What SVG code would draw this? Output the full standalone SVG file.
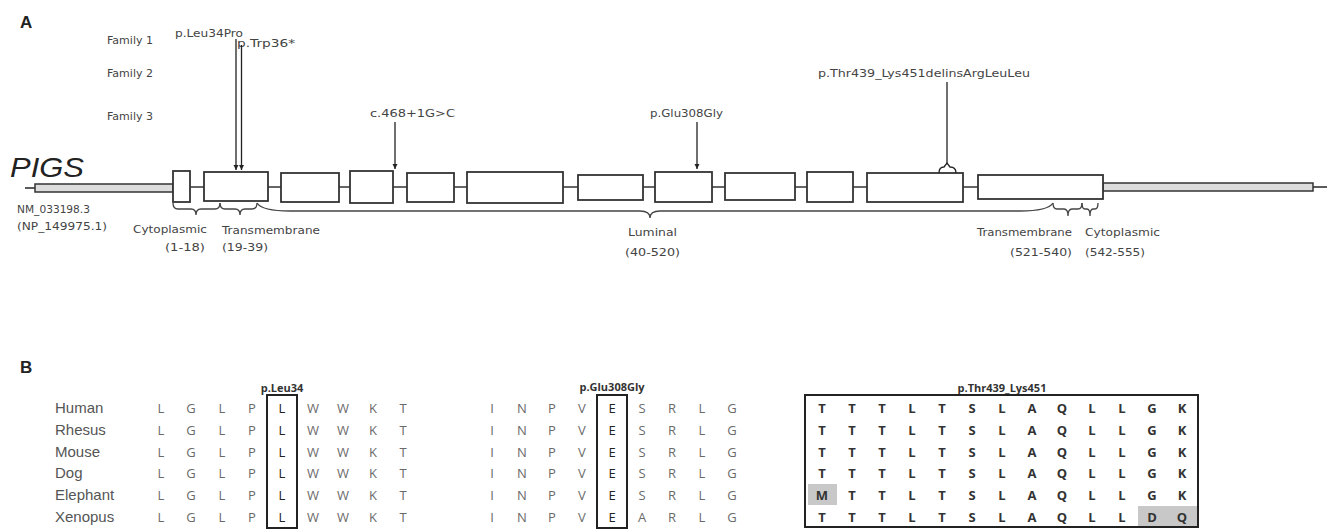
<svg xmlns="http://www.w3.org/2000/svg" width="1330" height="529" viewBox="0 0 1330 529">
<style>
.panel{font-family:"Liberation Sans",Arial,sans-serif;font-weight:bold;font-size:17px;fill:#222}
.lab{font-family:"DejaVu Sans",Verdana,sans-serif;font-size:11px;fill:#444}
.exon{fill:#fff;stroke:#333;stroke-width:1.8}
.utr{fill:#ddd;stroke:#333;stroke-width:1.5}
.intron{stroke:#333;stroke-width:1.6;fill:none}
.arr{stroke:#222;stroke-width:1.3;fill:none}
.brace{stroke:#444;stroke-width:1.3;fill:none}
.sp{font-family:"Liberation Sans",Arial,sans-serif;font-size:15px;fill:#555}
.aa{font-family:"Open Sans","Liberation Sans",sans-serif;font-size:13px;fill:#6a6a6a;text-anchor:middle}
.aak{font-family:"Open Sans","Liberation Sans",sans-serif;font-size:13px;fill:#222;text-anchor:middle}
.aab{font-family:"Open Sans","Liberation Sans",sans-serif;font-size:13px;font-weight:bold;fill:#333;text-anchor:middle}
.ttl{font-family:"Open Sans","Liberation Sans",sans-serif;font-size:11px;font-weight:bold;fill:#333;text-anchor:middle}
.box{fill:none;stroke:#222;stroke-width:2}
.hl{fill:#c8c8c8}
</style>
<defs>
<marker id="ah" markerWidth="6" markerHeight="6" refX="5" refY="3" orient="auto" markerUnits="userSpaceOnUse">
<path d="M0,0.5 L5,3 L0,5.5 Z" fill="#222"/>
</marker>
</defs>

<text class="panel" x="20" y="28">A</text>
<text class="panel" x="20" y="373">B</text>

<g id="family-labels">
<text class="lab" x="107" y="44" textLength="46" lengthAdjust="spacingAndGlyphs">Family 1</text>
<text class="lab" x="107" y="77" textLength="46" lengthAdjust="spacingAndGlyphs">Family 2</text>
<text class="lab" x="107" y="120" textLength="46" lengthAdjust="spacingAndGlyphs">Family 3</text>
</g>

<g id="gene">
<text x="10" y="177" font-family="'Liberation Sans',Arial,sans-serif" font-style="italic" font-size="28" fill="#222" textLength="74" lengthAdjust="spacingAndGlyphs">PIGS</text>
<text class="lab" x="17" y="213" textLength="73" lengthAdjust="spacingAndGlyphs">NM_033198.3</text>
<text class="lab" x="17" y="230" textLength="90" lengthAdjust="spacingAndGlyphs">(NP_149975.1)</text>
<line class="intron" x1="25" y1="188" x2="35" y2="188" stroke="#888"/>
<rect class="utr" x="35" y="184" width="138" height="8"/>
<line class="intron" x1="173" y1="187" x2="1103" y2="187"/>
<rect class="utr" x="1103" y="183" width="210" height="8"/>
<line class="intron" x1="1313" y1="187" x2="1327" y2="187" stroke="#888"/>
</g>

<g id="exons">
<rect id="exon1" class="exon" x="173" y="171" width="17" height="31"/>
<rect id="exon2" class="exon" x="204" y="172" width="64" height="29"/>
<rect id="exon3" class="exon" x="281" y="173" width="58" height="29"/>
<rect id="exon4" class="exon" x="350" y="171" width="43" height="32"/>
<rect id="exon5" class="exon" x="407" y="173" width="47" height="29"/>
<rect id="exon6" class="exon" x="467" y="172" width="96" height="31"/>
<rect id="exon7" class="exon" x="578" y="175" width="65" height="25"/>
<rect id="exon8" class="exon" x="655" y="172" width="57" height="30"/>
<rect id="exon9" class="exon" x="725" y="173" width="70" height="27"/>
<rect id="exon10" class="exon" x="807" y="172" width="46" height="30"/>
<rect id="exon11" class="exon" x="867" y="173" width="96" height="29"/>
<rect id="exon12" class="exon" x="978" y="175" width="125" height="24"/>
</g>

<g id="variants">
<text class="lab" x="175" y="37" textLength="68" lengthAdjust="spacingAndGlyphs">p.Leu34Pro</text>
<text class="lab" x="237" y="47" textLength="58" lengthAdjust="spacingAndGlyphs">p.Trp36*</text>
<text class="lab" x="370" y="117" textLength="85" lengthAdjust="spacingAndGlyphs">c.468+1G&gt;C</text>
<text class="lab" x="650" y="117" textLength="73" lengthAdjust="spacingAndGlyphs">p.Glu308Gly</text>
<text class="lab" x="818" y="77" textLength="212" lengthAdjust="spacingAndGlyphs">p.Thr439_Lys451delinsArgLeuLeu</text>
</g>

<g id="connectors">
<line class="arr" x1="236" y1="39" x2="236" y2="170" marker-end="url(#ah)"/>
<line class="arr" x1="241.5" y1="45" x2="241.5" y2="170" marker-end="url(#ah)"/>
<line class="arr" x1="395" y1="122" x2="395" y2="169" marker-end="url(#ah)"/>
<line class="arr" x1="697" y1="122" x2="697" y2="169" marker-end="url(#ah)"/>
<line class="arr" x1="947" y1="82" x2="947" y2="164"/>
<path class="arr" d="M939,173 Q939,167 944,167 L947,163 L950,167 Q956,167 956,173"/>
</g>

<g id="domains">
<path class="brace" d="M173,203 Q173,209 178,209 L191,209 Q196,209 196,215 Q196,209 201,209 L215,209 Q220,209 220,203"/>
<path class="brace" d="M220,203 Q220,209 225,209 L235,209 Q240,209 240,215 Q240,209 245,209 L252,209 Q257,209 257,203"/>
<path class="brace" stroke-width="1" stroke="#666" d="M257,203 Q262,211 290,211 L640,211 Q650,211 650,218 Q650,211 660,211 L1020,211 Q1048,211 1053,203"/>
<path class="brace" d="M1053,203 Q1053,209 1057,209 L1064,209 Q1068,209 1068,216 Q1068,209 1072,209 L1078,209 Q1082,209 1082,203"/>
<path class="brace" d="M1082,203 Q1082,209 1085,209 L1087,209 Q1090,209 1090,216 Q1090,209 1093,209 L1095,209 Q1098,209 1098,203"/>
<text class="lab" x="133" y="233" textLength="74" lengthAdjust="spacingAndGlyphs">Cytoplasmic</text>
<text class="lab" x="165" y="251" textLength="40" lengthAdjust="spacingAndGlyphs">(1-18)</text>
<text class="lab" x="222" y="234" textLength="98" lengthAdjust="spacingAndGlyphs">Transmembrane</text>
<text class="lab" x="222" y="251" textLength="46" lengthAdjust="spacingAndGlyphs">(19-39)</text>
<text class="lab" x="628" y="236" textLength="49" lengthAdjust="spacingAndGlyphs">Luminal</text>
<text class="lab" x="625" y="256" textLength="55" lengthAdjust="spacingAndGlyphs">(40-520)</text>
<text class="lab" x="977" y="236" textLength="95" lengthAdjust="spacingAndGlyphs">Transmembrane</text>
<text class="lab" x="1010" y="256" textLength="62" lengthAdjust="spacingAndGlyphs">(521-540)</text>
<text class="lab" x="1085" y="236" textLength="75" lengthAdjust="spacingAndGlyphs">Cytoplasmic</text>
<text class="lab" x="1085" y="256" textLength="60" lengthAdjust="spacingAndGlyphs">(542-555)</text>
</g>

<g id="species">
<text class="sp" x="55" y="413">Human</text>
<text class="sp" x="55" y="435">Rhesus</text>
<text class="sp" x="55" y="457">Mouse</text>
<text class="sp" x="55" y="478">Dog</text>
<text class="sp" x="55" y="500">Elephant</text>
<text class="sp" x="55" y="522">Xenopus</text>
</g>

<g id="align-leu34">
<text class="ttl" x="282" y="392">p.Leu34</text>
<rect class="box" x="267" y="395" width="30" height="133"/>
<g class="aa">
<text x="161" y="413">L</text><text x="191" y="413">G</text><text x="222" y="413">L</text><text x="252" y="413">P</text><text x="313" y="413">W</text><text x="343" y="413">W</text><text x="373" y="413">K</text><text x="403" y="413">T</text>
<text x="161" y="435">L</text><text x="191" y="435">G</text><text x="222" y="435">L</text><text x="252" y="435">P</text><text x="313" y="435">W</text><text x="343" y="435">W</text><text x="373" y="435">K</text><text x="403" y="435">T</text>
<text x="161" y="457">L</text><text x="191" y="457">G</text><text x="222" y="457">L</text><text x="252" y="457">P</text><text x="313" y="457">W</text><text x="343" y="457">W</text><text x="373" y="457">K</text><text x="403" y="457">T</text>
<text x="161" y="478">L</text><text x="191" y="478">G</text><text x="222" y="478">L</text><text x="252" y="478">P</text><text x="313" y="478">W</text><text x="343" y="478">W</text><text x="373" y="478">K</text><text x="403" y="478">T</text>
<text x="161" y="500">L</text><text x="191" y="500">G</text><text x="222" y="500">L</text><text x="252" y="500">P</text><text x="313" y="500">W</text><text x="343" y="500">W</text><text x="373" y="500">K</text><text x="403" y="500">T</text>
<text x="161" y="522">L</text><text x="191" y="522">G</text><text x="222" y="522">L</text><text x="252" y="522">P</text><text x="313" y="522">W</text><text x="343" y="522">W</text><text x="373" y="522">K</text><text x="403" y="522">T</text>
</g>
<g class="aak">
<text x="282" y="413">L</text><text x="282" y="435">L</text><text x="282" y="457">L</text><text x="282" y="478">L</text><text x="282" y="500">L</text><text x="282" y="522">L</text>
</g>
</g>

<g id="align-glu308">
<text class="ttl" x="612" y="391">p.Glu308Gly</text>
<rect class="box" x="597" y="395" width="30" height="133"/>
<g class="aa">
<text x="492" y="413">I</text><text x="522" y="413">N</text><text x="552" y="413">P</text><text x="582" y="413">V</text><text x="642" y="413">S</text><text x="672" y="413">R</text><text x="702" y="413">L</text><text x="732" y="413">G</text>
<text x="492" y="435">I</text><text x="522" y="435">N</text><text x="552" y="435">P</text><text x="582" y="435">V</text><text x="642" y="435">S</text><text x="672" y="435">R</text><text x="702" y="435">L</text><text x="732" y="435">G</text>
<text x="492" y="457">I</text><text x="522" y="457">N</text><text x="552" y="457">P</text><text x="582" y="457">V</text><text x="642" y="457">S</text><text x="672" y="457">R</text><text x="702" y="457">L</text><text x="732" y="457">G</text>
<text x="492" y="478">I</text><text x="522" y="478">N</text><text x="552" y="478">P</text><text x="582" y="478">V</text><text x="642" y="478">S</text><text x="672" y="478">R</text><text x="702" y="478">L</text><text x="732" y="478">G</text>
<text x="492" y="500">I</text><text x="522" y="500">N</text><text x="552" y="500">P</text><text x="582" y="500">V</text><text x="642" y="500">S</text><text x="672" y="500">R</text><text x="702" y="500">L</text><text x="732" y="500">G</text>
<text x="492" y="522">I</text><text x="522" y="522">N</text><text x="552" y="522">P</text><text x="582" y="522">V</text><text x="642" y="522">A</text><text x="672" y="522">R</text><text x="702" y="522">L</text><text x="732" y="522">G</text>
</g>
<g class="aak">
<text x="612" y="413">E</text><text x="612" y="435">E</text><text x="612" y="457">E</text><text x="612" y="478">E</text><text x="612" y="500">E</text><text x="612" y="522">E</text>
</g>
</g>

<g id="align-thr439">
<text class="ttl" x="1002" y="392">p.Thr439_Lys451</text>
<rect class="hl" x="808" y="484" width="29" height="21"/>
<rect class="hl" x="1138" y="506" width="60" height="21"/>
<rect class="box" x="805" y="395" width="393" height="132"/>
<g class="aab">
<text x="822" y="413">T</text><text x="852" y="413">T</text><text x="882" y="413">T</text><text x="912" y="413">L</text><text x="942" y="413">T</text><text x="972" y="413">S</text><text x="1002" y="413">L</text><text x="1032" y="413">A</text><text x="1062" y="413">Q</text><text x="1092" y="413">L</text><text x="1122" y="413">L</text><text x="1152" y="413">G</text><text x="1182" y="413">K</text>
<text x="822" y="435">T</text><text x="852" y="435">T</text><text x="882" y="435">T</text><text x="912" y="435">L</text><text x="942" y="435">T</text><text x="972" y="435">S</text><text x="1002" y="435">L</text><text x="1032" y="435">A</text><text x="1062" y="435">Q</text><text x="1092" y="435">L</text><text x="1122" y="435">L</text><text x="1152" y="435">G</text><text x="1182" y="435">K</text>
<text x="822" y="457">T</text><text x="852" y="457">T</text><text x="882" y="457">T</text><text x="912" y="457">L</text><text x="942" y="457">T</text><text x="972" y="457">S</text><text x="1002" y="457">L</text><text x="1032" y="457">A</text><text x="1062" y="457">Q</text><text x="1092" y="457">L</text><text x="1122" y="457">L</text><text x="1152" y="457">G</text><text x="1182" y="457">K</text>
<text x="822" y="478">T</text><text x="852" y="478">T</text><text x="882" y="478">T</text><text x="912" y="478">L</text><text x="942" y="478">T</text><text x="972" y="478">S</text><text x="1002" y="478">L</text><text x="1032" y="478">A</text><text x="1062" y="478">Q</text><text x="1092" y="478">L</text><text x="1122" y="478">L</text><text x="1152" y="478">G</text><text x="1182" y="478">K</text>
<text x="822" y="500">M</text><text x="852" y="500">T</text><text x="882" y="500">T</text><text x="912" y="500">L</text><text x="942" y="500">T</text><text x="972" y="500">S</text><text x="1002" y="500">L</text><text x="1032" y="500">A</text><text x="1062" y="500">Q</text><text x="1092" y="500">L</text><text x="1122" y="500">L</text><text x="1152" y="500">G</text><text x="1182" y="500">K</text>
<text x="822" y="522">T</text><text x="852" y="522">T</text><text x="882" y="522">T</text><text x="912" y="522">L</text><text x="942" y="522">T</text><text x="972" y="522">S</text><text x="1002" y="522">L</text><text x="1032" y="522">A</text><text x="1062" y="522">Q</text><text x="1092" y="522">L</text><text x="1122" y="522">L</text><text x="1152" y="522">D</text><text x="1182" y="522">Q</text>
</g>
</g>
</svg>
